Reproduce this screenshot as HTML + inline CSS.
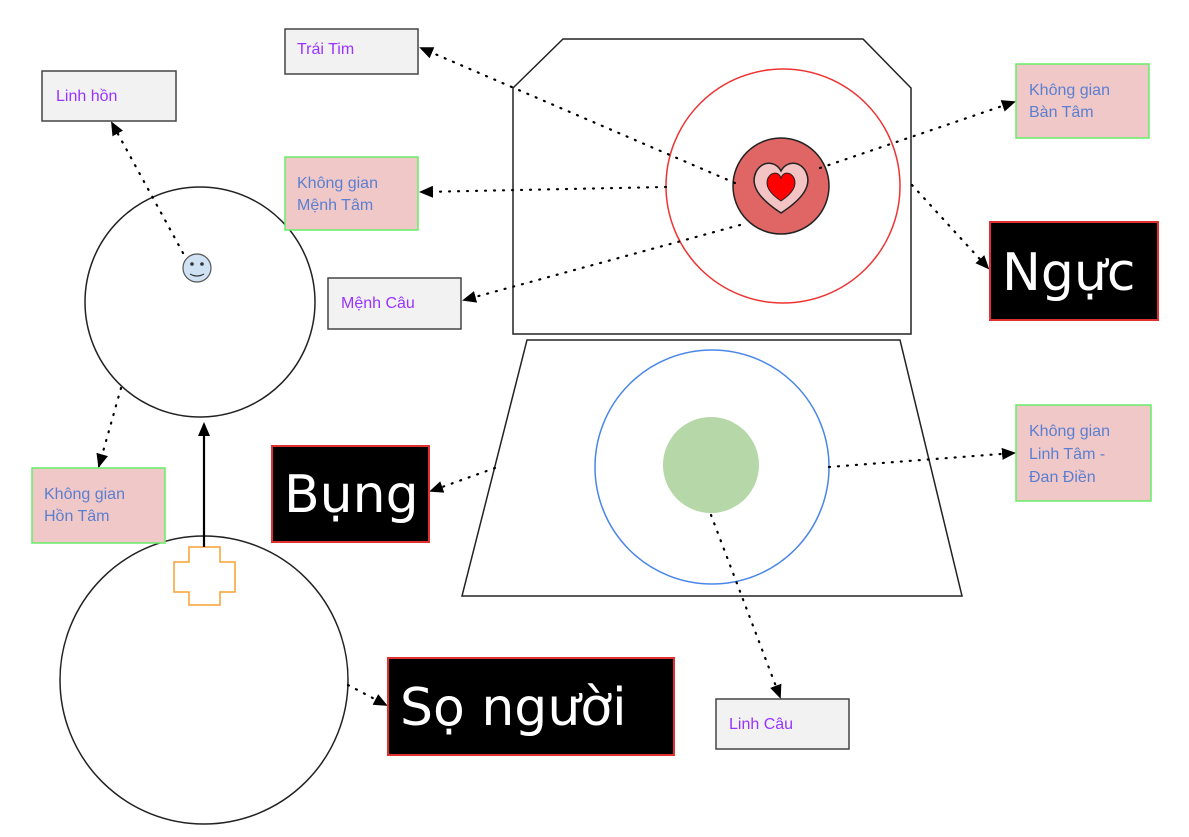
<!DOCTYPE html>
<html><head><meta charset="utf-8"><style>
html,body{margin:0;padding:0;background:#fff;}
svg{display:block;}
.s{font-family:"Liberation Sans","DejaVu Sans",sans-serif;font-size:16px;fill:#9933ff;}
.b{font-family:"Liberation Sans","DejaVu Sans",sans-serif;font-size:16px;fill:#5b7fd0;}
.big{font-family:"DejaVu Sans","Liberation Sans",sans-serif;font-size:52px;fill:#fff;}
.gb{fill:#f2f2f2;stroke:#444;stroke-width:1.5;}
.pb{fill:#f0c8c8;stroke:#66ee66;stroke-width:1.5;}
.kb{fill:#000;stroke:#e03030;stroke-width:2;}
.d{stroke:#000;stroke-width:2.2;stroke-dasharray:1 8;stroke-linecap:round;fill:none;}
</style></head><body>
<svg width="1189" height="837" viewBox="0 0 1189 837" xmlns="http://www.w3.org/2000/svg">
<defs>
<marker id="a" markerWidth="14" markerHeight="12" refX="12" refY="6" orient="auto" markerUnits="userSpaceOnUse">
<path d="M0,0 L14,6 L0,12 Z" fill="#000"/></marker>
</defs>
<polygon points="513,88 563,39 863,39 911,88 911,334 513,334" fill="#fff" stroke="#222" stroke-width="1.5"/>
<circle cx="783" cy="186" r="117" fill="none" stroke="#ee3333" stroke-width="1.5"/>
<circle cx="781" cy="186" r="48" fill="#e06666" stroke="#222" stroke-width="1.5"/>
<path d="M781,213 C758,198 750,185 756,172 C762,160 776,161 781,171 C786,161 800,160 806,172 C812,185 804,198 781,213 Z" fill="#f4c4c4" stroke="#222" stroke-width="1.5"/>
<path d="M781,201 C769,193 765,185 768,178 C772,171 779,172 781,178 C783,172 790,171 794,178 C797,185 793,193 781,201 Z" fill="#ff0000" stroke="#222" stroke-width="1"/>
<polygon points="527,340 900,340 962,596 462,596" fill="#fff" stroke="#222" stroke-width="1.5"/>
<circle cx="712" cy="467" r="117" fill="none" stroke="#4a86e8" stroke-width="1.5"/>
<circle cx="711" cy="465" r="48" fill="#b6d7a8"/>
<circle cx="200" cy="302" r="115" fill="#fff" stroke="#222" stroke-width="1.5"/>
<circle cx="197" cy="268" r="14" fill="#cfe2f3" stroke="#555" stroke-width="1.2"/>
<circle cx="192" cy="264" r="1.8" fill="#333"/><circle cx="202" cy="264" r="1.8" fill="#333"/>
<path d="M190,274 Q197,278 204,274" stroke="#333" stroke-width="1.2" fill="none"/>
<circle cx="204" cy="680" r="144" fill="#fff" stroke="#222" stroke-width="1.5"/>
<polygon points="189,547 220,547 220,562 235,562 235,592 220,592 220,605 189,605 189,592 174,592 174,562 189,562" fill="#fff" stroke="#f6a030" stroke-width="1.5"/>
<line x1="204" y1="547" x2="204" y2="424" stroke="#000" stroke-width="2.2" marker-end="url(#a)"/>
<line class="d" x1="735" y1="183" x2="421" y2="48" marker-end="url(#a)"/>
<line class="d" x1="820" y1="168" x2="1014" y2="102" marker-end="url(#a)"/>
<line class="d" x1="666" y1="187" x2="421" y2="192" marker-end="url(#a)"/>
<line class="d" x1="740" y1="225" x2="464" y2="300" marker-end="url(#a)"/>
<line class="d" x1="912" y1="185" x2="988" y2="268" marker-end="url(#a)"/>
<line class="d" x1="183" y1="253" x2="112" y2="123" marker-end="url(#a)"/>
<line class="d" x1="121" y1="388" x2="99" y2="466" marker-end="url(#a)"/>
<line class="d" x1="495" y1="468" x2="431" y2="491" marker-end="url(#a)"/>
<line class="d" x1="829" y1="467" x2="1014" y2="453" marker-end="url(#a)"/>
<line class="d" x1="711" y1="515" x2="780" y2="697" marker-end="url(#a)"/>
<line class="d" x1="348" y1="685" x2="386" y2="705" marker-end="url(#a)"/>
<rect class="gb" x="285" y="29" width="133" height="45"/><text class="s" x="297" y="54">Trái Tim</text>
<rect class="gb" x="42" y="71" width="134" height="50"/><text class="s" x="56" y="101">Linh hồn</text>
<rect class="pb" x="285" y="157" width="133" height="73"/><text class="b" x="297" y="188">Không gian</text><text class="b" x="297" y="210">Mệnh Tâm</text>
<rect class="gb" x="328" y="278" width="133" height="51"/><text class="s" x="341" y="308">Mệnh Câu</text>
<rect class="pb" x="1016" y="64" width="133" height="74"/><text class="b" x="1029" y="95">Không gian</text><text class="b" x="1029" y="117">Bàn Tâm</text>
<rect class="kb" x="990" y="222" width="168" height="98"/><text class="big" x="1002" y="290">Ngực</text>
<rect class="kb" x="272" y="446" width="157" height="96"/><text class="big" x="284" y="512">Bụng</text>
<rect class="pb" x="32" y="468" width="133" height="75"/><text class="b" x="44" y="499">Không gian</text><text class="b" x="44" y="521">Hồn Tâm</text>
<rect class="pb" x="1016" y="405" width="135" height="96"/><text class="b" x="1029" y="436">Không gian</text><text class="b" x="1029" y="459">Linh Tâm -</text><text class="b" x="1029" y="482">Đan Điền</text>
<rect class="kb" x="388" y="658" width="286" height="97"/><text class="big" x="400" y="725">Sọ người</text>
<rect class="gb" x="716" y="699" width="133" height="50"/><text class="s" x="729" y="729">Linh Câu</text>
</svg>
</body></html>
